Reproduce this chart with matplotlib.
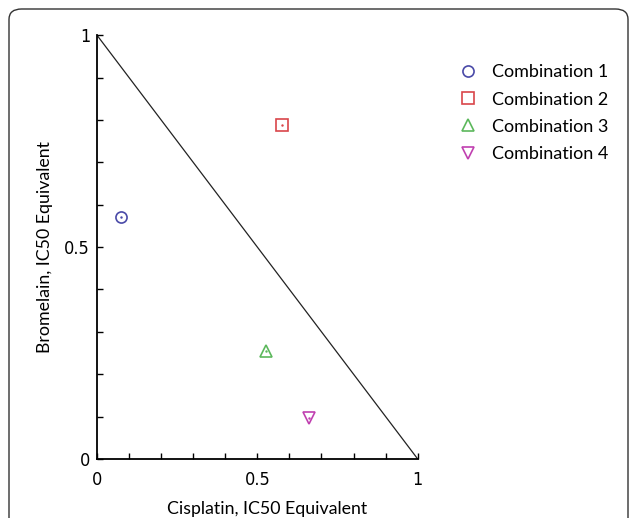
import numpy as np
import matplotlib.pyplot as plt
from matplotlib.patches import FancyBboxPatch

# combination points (cisplatin, bromelain) in IC50 equivalents
names = ['Combination 1', 'Combination 2', 'Combination 3', 'Combination 4']
cis = [0.075, 0.576, 0.526, 0.661]
bro = [0.570, 0.789, 0.255, 0.096]
markers = ['o', 's', '^', 'v']
colors = ['#4a4aa8', '#d9464a', '#5cb85c', '#c040b0']

# additivity line
line_x = [0, 1]
line_y = [1, 0]

fig = plt.figure(figsize=(6.30, 5.18), dpi=100)
ax = fig.add_axes([0.154, 0.114, 0.509, 0.818])

# rounded border around the panel
W, H = 630, 518
border = FancyBboxPatch((9 / W, -20 / H), 619 / W, (H - 9 + 20) / H,
                        boxstyle='round,pad=0,rounding_size=0.02',
                        transform=fig.transFigure, fill=False,
                        edgecolor='#333333', linewidth=1.0, zorder=0)
fig.patches.append(border)

ax.plot(line_x, line_y, color='#222222', linewidth=0.9)
for i in range(len(names)):
    ax.plot(cis[i], bro[i], linestyle='none', marker=markers[i], markersize=8,
            markerfacecolor='none', markeredgecolor=colors[i], markeredgewidth=1.2,
            label=names[i])
    ax.plot(cis[i], bro[i], linestyle='none', marker='.', markersize=1.5,
            color=colors[i])

ax.set_xlim(0, 1)
ax.set_ylim(0, 1)
ax.spines['top'].set_visible(False)
ax.spines['right'].set_visible(False)
ax.spines['left'].set_linewidth(1.3)
ax.spines['bottom'].set_linewidth(1.3)

tick_font = dict(family=['DejaVu Sans'], stretch='condensed', size=13)
ax.set_xticks(np.arange(0, 1.01, 0.1))
ax.set_yticks(np.arange(0, 1.01, 0.1))
ax.set_xticklabels(['0', '', '', '', '', '0.5', '', '', '', '', '1'], fontdict=tick_font)
ax.set_yticklabels(['0', '', '', '', '', '0.5', '', '', '', '', '1'], fontdict=tick_font)
ax.tick_params(direction='in', length=4, width=1.0)
ax.tick_params(axis='x', pad=9)
ax.tick_params(axis='y', pad=5)

lab_font = dict(family=['Lato', 'DejaVu Sans'], size=12.8)
ax.set_xlabel('Cisplatin, IC50 Equivalent', fontdict=lab_font, labelpad=8, x=0.53)
ax.set_ylabel('Bromelain, IC50 Equivalent', fontdict=lab_font, labelpad=8)

leg = ax.legend(loc='upper left', bbox_to_anchor=(0.70, 0.907),
                bbox_transform=fig.transFigure, frameon=False,
                prop={'family': ['Lato', 'DejaVu Sans'], 'size': 13},
                handlelength=1.2, handletextpad=0.75, labelspacing=0.62,
                markerscale=1.0)

fig.savefig('out.png', dpi=100)
